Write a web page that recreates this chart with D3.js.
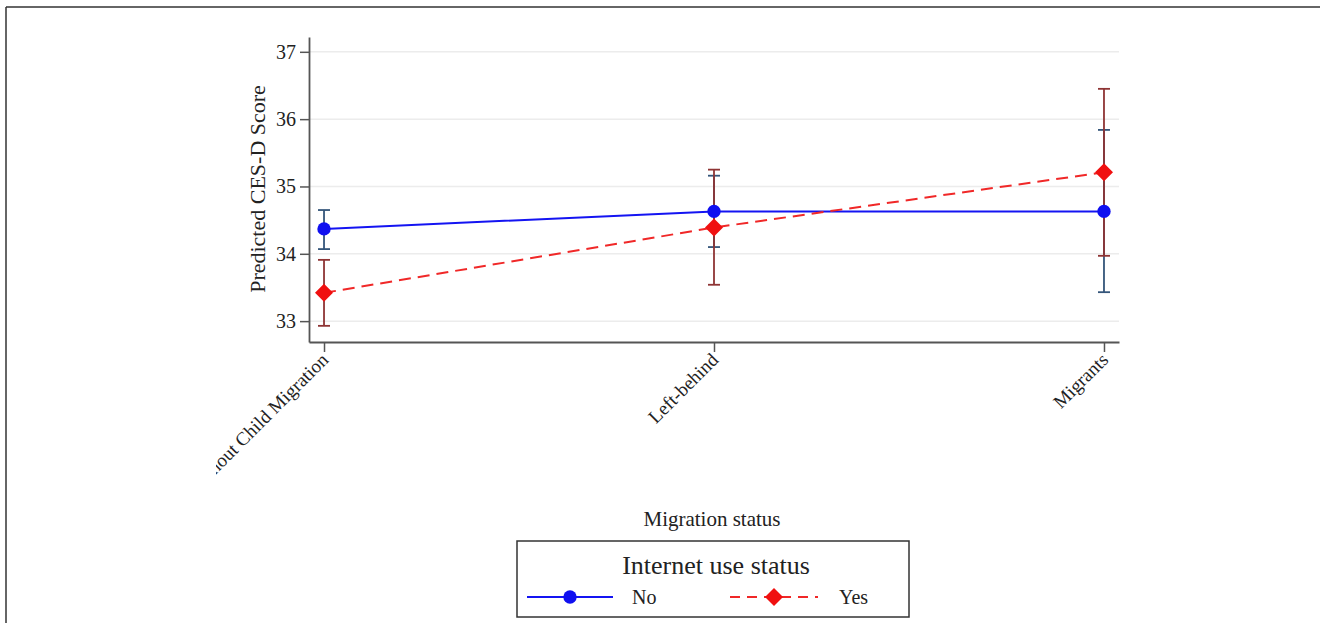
<!DOCTYPE html>
<html>
<head>
<meta charset="utf-8">
<script src="https://cdn.jsdelivr.net/npm/d3@7"></script>
<style>
  html, body { margin: 0; padding: 0; background: #fff; }
  svg { display: block; }
  text { font-family: "Liberation Serif", "Times New Roman", serif; fill: #222; }
</style>
</head>
<body>
<svg id="chart" width="1320" height="623"></svg>
<script>
// Predictive margins of CES-D score by migration status and internet use
const categories = ["Without Child Migration", "Left-behind", "Migrants"];
const yTicks = [33, 34, 35, 36, 37];

const noMean = [34.37, 34.63, 34.63];
const noLow  = [34.07, 34.10, 33.43];
const noHigh = [34.65, 35.16, 35.84];

const yesMean = [33.42, 34.39, 35.21];
const yesLow  = [32.93, 33.54, 33.97];
const yesHigh = [33.91, 35.25, 36.45];

const series = [
  { name: "No",  mean: noMean,  low: noLow,  high: noHigh,  line: "#1414f2", ci: "#34557a", dash: null,   marker: "circle" },
  { name: "Yes", mean: yesMean, low: yesLow, high: yesHigh, line: "#f02828", ci: "#8e3434", dash: "12,7", marker: "diamond" }
];

const svg = d3.select("#chart");
const W = 1320, H = 623;

// frame (only top and left edges are visible in the cropped original)
svg.append("line").attr("x1", 6).attr("x2", W).attr("y1", 7).attr("y2", 7)
  .attr("stroke", "#333").attr("stroke-width", 1.5);
svg.append("line").attr("x1", 6).attr("x2", 6).attr("y1", 7).attr("y2", H)
  .attr("stroke", "#333").attr("stroke-width", 1.5);

const plot = { left: 309, right: 1119, top: 37, bottom: 342 };

const x = d3.scalePoint()
  .domain(categories)
  .range([plot.left, plot.right])
  .padding(0.0385);

const y = d3.scaleLinear()
  .domain([32.69, 37.22])
  .range([plot.bottom, plot.top]);

// gridlines
svg.append("g")
  .selectAll("line")
  .data(yTicks)
  .join("line")
  .attr("x1", plot.left).attr("x2", plot.right)
  .attr("y1", d => y(d)).attr("y2", d => y(d))
  .attr("stroke", "#ececec").attr("stroke-width", 1.5);

// y axis
const yAxis = svg.append("g")
  .attr("transform", `translate(${plot.left},0)`)
  .call(d3.axisLeft(y).tickValues(yTicks).tickFormat(d3.format("d"))
    .tickSize(9).tickSizeOuter(0).tickPadding(4));
yAxis.select(".domain").attr("stroke", "#555").attr("stroke-width", 1.8);
yAxis.selectAll(".tick line").attr("stroke", "#555").attr("stroke-width", 1.5);
yAxis.selectAll(".tick text")
  .attr("font-family", '"Liberation Serif", serif')
  .attr("font-size", 20).attr("fill", "#222");

// x axis, first label is cut off at the left like in the cropped original
const xWrap = svg.append("g").attr("clip-path", "url(#xclip)");
svg.append("defs").append("clipPath").attr("id", "xclip")
  .append("rect").attr("x", 216).attr("y", 330).attr("width", 1000).attr("height", 200);

const xAxis = xWrap.append("g")
  .attr("transform", `translate(0,${plot.bottom})`)
  .call(d3.axisBottom(x).tickSize(10).tickSizeOuter(0));
xAxis.select(".domain").attr("stroke", "#555").attr("stroke-width", 1.8);
xAxis.selectAll(".tick line").attr("stroke", "#555").attr("stroke-width", 1.5);
xAxis.selectAll(".tick text")
  .attr("font-family", '"Liberation Serif", serif')
  .attr("font-size", 19).attr("fill", "#222")
  .attr("text-anchor", "end")
  .attr("y", 0).attr("dy", 0)
  .attr("transform", "translate(5,19) rotate(-45)");

// axis titles
svg.append("text")
  .attr("transform", `translate(265,189) rotate(-90)`)
  .attr("text-anchor", "middle")
  .style("font-size", "22px")
  .text("Predicted CES-D Score");

svg.append("text")
  .attr("x", 712).attr("y", 526)
  .attr("text-anchor", "middle")
  .style("font-size", "21px")
  .text("Migration status");

// confidence intervals
const capW = 6;
series.forEach(s => {
  const g = svg.append("g");
  categories.forEach((c, i) => {
    const cx = x(c);
    g.append("line").attr("x1", cx).attr("x2", cx)
      .attr("y1", y(s.low[i])).attr("y2", y(s.high[i]))
      .attr("stroke", s.ci).attr("stroke-width", 1.8);
    [s.low[i], s.high[i]].forEach(v => {
      g.append("line").attr("x1", cx - capW).attr("x2", cx + capW)
        .attr("y1", y(v)).attr("y2", y(v))
        .attr("stroke", s.ci).attr("stroke-width", 1.8);
    });
  });
});

// connecting lines
const lineGen = d3.line().x((d, i) => x(categories[i])).y(d => y(d));
series.forEach(s => {
  svg.append("path")
    .datum(s.mean)
    .attr("d", lineGen)
    .attr("fill", "none")
    .attr("stroke", s.line)
    .attr("stroke-width", 2)
    .attr("stroke-dasharray", s.dash);
});

// markers
const circleSym = d3.symbol().type(d3.symbolCircle).size(140);
const diamondSym = d => `M0,${-d}L${d},0L0,${d}L${-d},0Z`;
function drawMarker(g, s, cx, cy) {
  if (s.marker === "circle") {
    g.append("path").attr("d", circleSym()).attr("transform", `translate(${cx},${cy})`)
      .attr("fill", "#1010f0");
  } else {
    g.append("path").attr("d", diamondSym(9)).attr("transform", `translate(${cx},${cy})`)
      .attr("fill", "#f01010");
  }
}
series.forEach(s => {
  const g = svg.append("g");
  s.mean.forEach((v, i) => drawMarker(g, s, x(categories[i]), y(v)));
});

// legend
const legend = svg.append("g");
legend.append("rect")
  .attr("x", 517).attr("y", 541).attr("width", 392).attr("height", 76)
  .attr("fill", "#fff").attr("stroke", "#333").attr("stroke-width", 1.5);
legend.append("text")
  .attr("x", 716).attr("y", 574)
  .attr("text-anchor", "middle")
  .style("font-size", "26px")
  .attr("fill", "#1e2a4a")
  .text("Internet use status");

const legendItems = [
  { s: series[0], x0: 527, x1: 613, tx: 632 },
  { s: series[1], x0: 730, x1: 818, tx: 839 }
];
legendItems.forEach(it => {
  const ly = 597;
  legend.append("line")
    .attr("x1", it.x0).attr("x2", it.x1).attr("y1", ly).attr("y2", ly)
    .attr("stroke", it.s.line).attr("stroke-width", 2)
    .attr("stroke-dasharray", it.s.dash ? "10,7" : null);
  drawMarker(legend, it.s, (it.x0 + it.x1) / 2, ly);
  legend.append("text")
    .attr("x", it.tx).attr("y", ly + 7)
    .style("font-size", "20px")
    .text(it.s.name);
});
</script>
</body>
</html>
